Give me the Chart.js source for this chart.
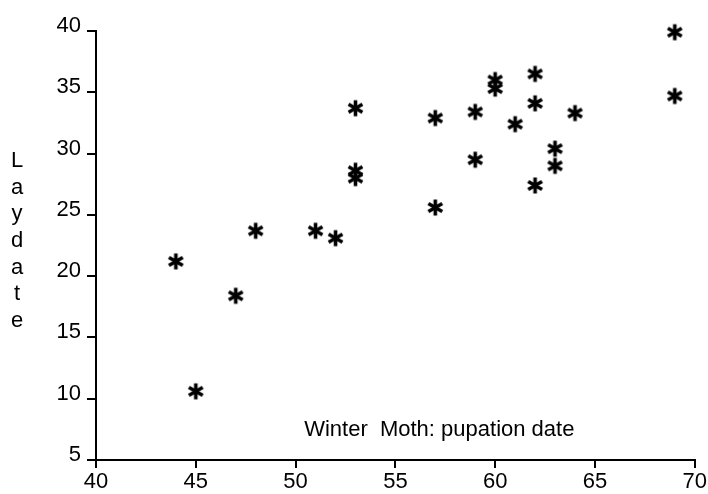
<!DOCTYPE html>
<html>
<head>
<meta charset="utf-8">
<script src="https://cdn.jsdelivr.net/npm/chart.js@4"></script>
<style>
  html, body { margin: 0; padding: 0; background: #fff; }
  #wrap { width: 708px; height: 494px; }
</style>
</head>
<body>
<div id="wrap"><canvas id="chart"></canvas></div>
<script>
// pupation date (x) vs lay date (y)
const pupationDate = [44, 45, 47, 48, 51, 52, 53, 53, 53, 57, 57, 59, 59, 60, 60, 61, 62, 62, 62, 63, 63, 64, 69, 69];
const layDate = [21.2, 10.6, 18.4, 23.7, 23.7, 23.1, 33.7, 28.6, 28.0, 32.9, 25.6, 33.4, 29.5, 36.0, 35.3, 32.4, 36.5, 34.1, 27.4, 30.4, 29.0, 33.3, 39.9, 34.7];
const xTicks = [40, 45, 50, 55, 60, 65, 70];
const yTicks = [5, 10, 15, 20, 25, 30, 35, 40];
const yTitle = 'Laydate';
const plotLabel = 'Winter  Moth: pupation date';

const FONT = '"Liberation Sans", Arial, sans-serif';

// six-armed asterisk marker
function makeStar(size) {
  const c = document.createElement('canvas');
  c.width = size; c.height = size;
  const ctx = c.getContext('2d');
  const r = size / 2 - 1.5;
  ctx.strokeStyle = '#000';
  ctx.lineWidth = 3.6;
  ctx.lineCap = 'butt';
  ctx.translate(size / 2, size / 2);
  for (let i = 0; i < 3; i++) {
    const a = Math.PI / 2 + i * Math.PI / 3;
    ctx.beginPath();
    ctx.moveTo(Math.cos(a) * r, Math.sin(a) * r);
    ctx.lineTo(-Math.cos(a) * r, -Math.sin(a) * r);
    ctx.stroke();
  }
  return c;
}

const textPlugin = {
  id: 'textPlugin',
  afterDraw(chart) {
    const ctx = chart.ctx;
    const xs = chart.scales.x, ys = chart.scales.y;
    ctx.save();
    ctx.fillStyle = '#000';
    ctx.font = '22px ' + FONT;
    ctx.textAlign = 'center';
    ctx.textBaseline = 'middle';
    // stacked y title
    const letters = yTitle.split('');
    const step = 26.7;
    const mid = 241;
    letters.forEach((ch, i) => {
      ctx.fillText(ch, 17, mid + (i - (letters.length - 1) / 2) * step);
    });
    // label inside plot
    ctx.fillText(plotLabel, xs.getPixelForValue(57.2), ys.getPixelForValue(7.45));
    ctx.restore();
  }
};

new Chart(document.getElementById('chart'), {
  type: 'scatter',
  data: {
    datasets: [{
      data: pupationDate.map((x, i) => ({ x: x, y: layDate[i] })),
      pointStyle: makeStar(19),
      pointRadius: 9,
      pointHoverRadius: 9,
      clip: false,
    }],
  },
  options: {
    responsive: true,
    maintainAspectRatio: false,
    animation: false,
    events: [],
    layout: { padding: { top: 31, right: 10, left: 0, bottom: 0 } },
    plugins: { legend: { display: false }, tooltip: { enabled: false } },
    scales: {
      x: {
        type: 'linear',
        min: 40, max: 70,
        afterBuildTicks: s => { s.ticks = xTicks.map(v => ({ value: v })); },
        afterFit: s => { s.height = 34; },
        grid: { drawOnChartArea: false, drawTicks: true, tickLength: 8, color: '#000', lineWidth: 2 },
        border: { display: true, color: '#000', width: 2 },
        ticks: { color: '#000', font: { family: FONT, size: 22 }, padding: 1, maxRotation: 0 },
      },
      y: {
        type: 'linear',
        min: 5, max: 40,
        afterBuildTicks: s => { s.ticks = yTicks.map(v => ({ value: v })); },
        afterFit: s => { s.width = 96; },
        grid: { drawOnChartArea: false, drawTicks: true, tickLength: 9, color: '#000', lineWidth: 2 },
        border: { display: true, color: '#000', width: 2 },
        ticks: { color: '#000', font: { family: FONT, size: 22 }, padding: 6, labelOffset: -5 },
      },
    },
  },
  plugins: [textPlugin],
});
</script>
</body>
</html>
